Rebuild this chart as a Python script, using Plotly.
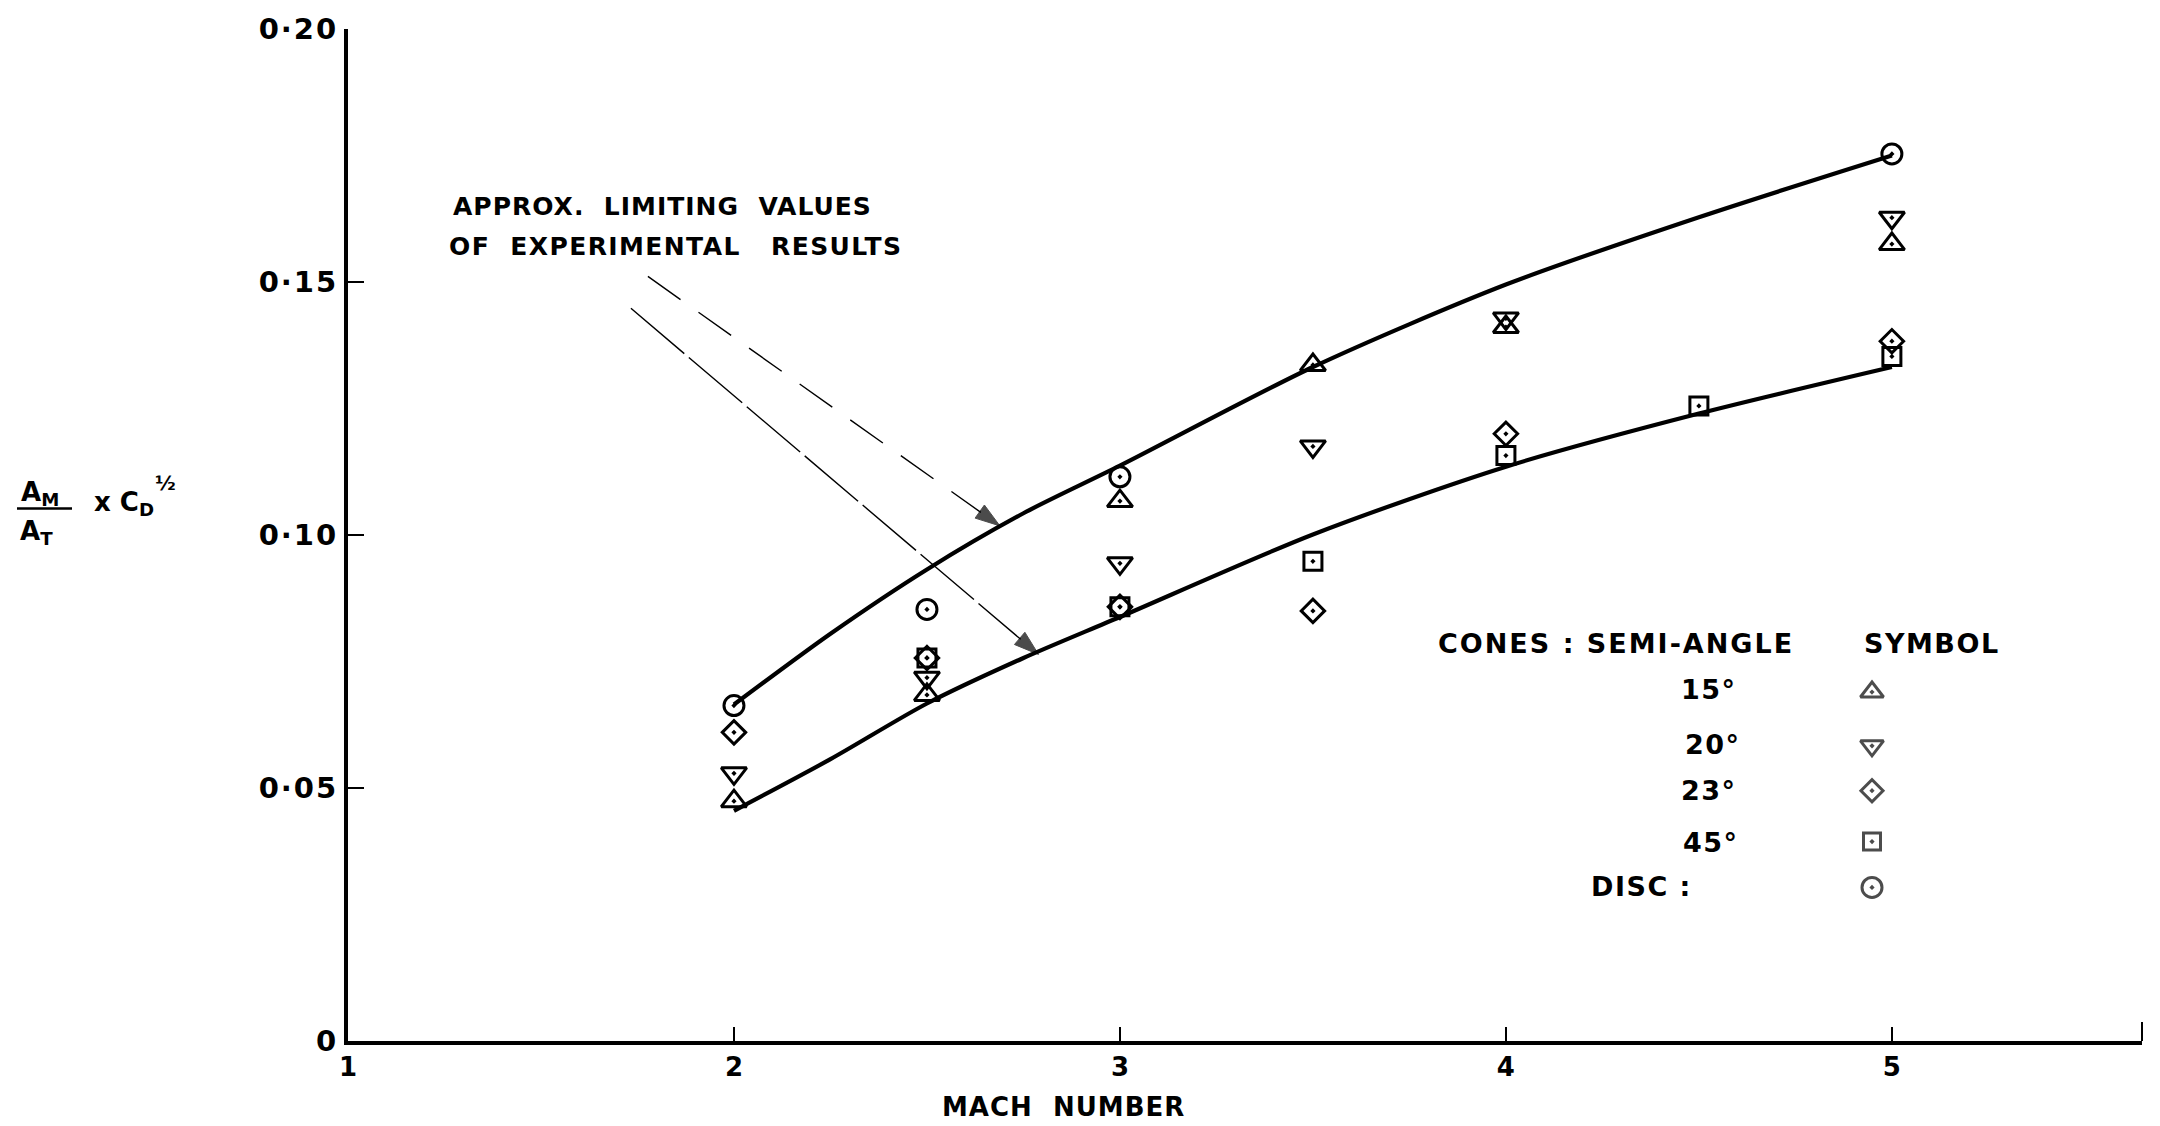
import plotly.graph_objects as go

# Experimental points: Mach number vs (A_M / A_T) x C_D^(1/2)
mach_15 = [2.0, 2.5, 3.0, 3.5, 4.0, 5.0]
val_15 = [0.0474, 0.0684, 0.1067, 0.1336, 0.1411, 0.1575]

mach_20 = [2.0, 2.5, 3.0, 3.5, 4.0, 5.0]
val_20 = [0.0529, 0.0718, 0.0944, 0.1175, 0.1428, 0.1627]

mach_23 = [2.0, 2.5, 3.0, 3.5, 4.0, 5.0]
val_23 = [0.0610, 0.0757, 0.0858, 0.0850, 0.1200, 0.1383]

mach_45 = [2.5, 3.0, 3.5, 4.0, 4.5, 5.0]
val_45 = [0.0757, 0.0858, 0.0948, 0.1157, 0.1255, 0.1353]

mach_disc = [2.0, 2.5, 3.0, 5.0]
val_disc = [0.0663, 0.0853, 0.1115, 0.1753]

# Approximate limiting curves of the experimental results
curve_mach = [2.0, 2.25, 2.5, 2.75, 3.0, 3.5, 4.0, 4.5, 5.0]
upper_limit = [0.0665, 0.0805, 0.0932, 0.1043, 0.1137, 0.1332, 0.1495, 0.1628, 0.1750]
lower_limit = [0.0455, 0.0557, 0.0667, 0.0757, 0.0838, 0.1001, 0.1135, 0.1240, 0.1332]

# Leader lines from the note to each curve: (tail, head) in Mach / value
leader_upper = [(1.777, 0.1511), (2.689, 0.1018)]
leader_lower = [(1.733, 0.1448), (2.789, 0.0764)]

# Axis ticks
y_ticks = [0.0, 0.05, 0.10, 0.15, 0.20]
y_tick_text = ["0", "0·05", "0·10", "0·15", "0·20"]
x_ticks = [1, 2, 3, 4, 5]
x_tick_text = ["1", "2", "3", "4", "5"]
x_max = 5.648

# Key rows
key_labels = ["15°", "20°", "23°", "45°", "DISC :"]
key_symbols = ["triangle-up-open-dot", "triangle-down-open-dot", "diamond-open-dot",
               "square-open-dot", "circle-open-dot"]

W, H = 2160, 1126
L, R, T, B = 348, 18, 26, 85
PX0, PX1 = L, W - R
PY0, PY1 = H - B, T
FONT = "DejaVu Sans"
INK = "#000000"


def fx(p):
    return (p - PX0) / (PX1 - PX0)


def fy(p):
    return (PY0 - p) / (PY0 - PY1)


def spaced(s, px):
    return '<span style="letter-spacing:%spx">%s</span>' % (px, s)


def bold_font(size):
    return dict(family=FONT, size=size, color=INK, weight="bold")


fig = go.Figure()

for ys in (upper_limit, lower_limit):
    fig.add_trace(go.Scatter(x=curve_mach, y=ys, mode="lines",
                             line=dict(color=INK, width=4.2, shape="spline", smoothing=0.8),
                             hoverinfo="skip", showlegend=False))

series = [
    (mach_15, val_15, "triangle-up-open-dot", 22),
    (mach_20, val_20, "triangle-down-open-dot", 22),
    (mach_23, val_23, "diamond-open-dot", 18),
    (mach_45, val_45, "square-open-dot", 18),
    (mach_disc, val_disc, "circle-open-dot", 20),
]
for xs, ys, sym, size in series:
    fig.add_trace(go.Scatter(x=xs, y=ys, mode="markers",
                             marker=dict(symbol=sym, size=size, color=INK,
                                         line=dict(color=INK, width=3)),
                             showlegend=False))

# Leader lines ending in arrowheads
for pts, dash in ((leader_upper, "40px,22px"), (leader_lower, "70px,6px")):
    fig.add_trace(go.Scatter(x=[p[0] for p in pts], y=[p[1] for p in pts],
                             mode="lines+markers",
                             line=dict(color=INK, width=1.4, dash=dash),
                             marker=dict(symbol="arrow", size=[0, 26], color=INK,
                                         angleref="previous",
                                         line=dict(color=INK, width=1)),
                             hoverinfo="skip", showlegend=False))

# Symbol key drawn on an overlay axis spanning the plot area
key_rows_px = [691, 745, 790, 841, 887]
key_sizes = [20, 20, 17, 17, 20]
fig.add_trace(go.Scatter(x=[fx(1872)] * len(key_symbols), y=[fy(p) for p in key_rows_px],
                         mode="markers", xaxis="x2", yaxis="y2",
                         marker=dict(symbol=key_symbols, size=key_sizes, color=INK,
                                     line=dict(color=INK, width=3)),
                         showlegend=False, hoverinfo="skip"))

annotations = []
shapes = []

# Key text
annotations.append(dict(text=spaced("CONES : SEMI-ANGLE", 2), x=fx(1436), y=fy(642),
                        xref="paper", yref="paper", xanchor="left", yanchor="middle",
                        showarrow=False, font=bold_font(27)))
annotations.append(dict(text=spaced("SYMBOL", 1.5), x=fx(1862), y=fy(642),
                        xref="paper", yref="paper", xanchor="left", yanchor="middle",
                        showarrow=False, font=bold_font(27)))
key_text_x = [1679, 1683, 1679, 1681, 1589]
key_text_y = [688, 744, 790, 842, 886]
for lab, xp, yp in zip(key_labels, key_text_x, key_text_y):
    annotations.append(dict(text=spaced(lab, 1.5), x=fx(xp), y=fy(yp), xref="paper", yref="paper",
                            xanchor="left", yanchor="middle", showarrow=False,
                            font=bold_font(27)))

# Note about the limiting curves
annotations.append(dict(text=spaced("APPROX.  LIMITING  VALUES", 1), x=fx(451), y=fy(204),
                        xref="paper", yref="paper", xanchor="left", yanchor="middle",
                        showarrow=False, font=bold_font(25)))
annotations.append(dict(text=spaced("OF  EXPERIMENTAL   RESULTS", 1.4), x=fx(447), y=fy(244),
                        xref="paper", yref="paper", xanchor="left", yanchor="middle",
                        showarrow=False, font=bold_font(25)))

# X axis title
annotations.append(dict(text=spaced("MACH  NUMBER", 1), x=fx(1063), y=fy(1107),
                        xref="paper", yref="paper", xanchor="center", yanchor="middle",
                        showarrow=False, font=bold_font(26)))

# Y axis title: (A_M / A_T) x C_D^(1/2)
annotations.append(dict(text="A<sub>M</sub>", x=fx(19), y=fy(492), xref="paper", yref="paper",
                        xanchor="left", yanchor="middle", showarrow=False, font=bold_font(26)))
annotations.append(dict(text="A<sub>T</sub>", x=fx(18), y=fy(531), xref="paper", yref="paper",
                        xanchor="left", yanchor="middle", showarrow=False, font=bold_font(26)))
shapes.append(dict(type="line", xref="paper", yref="paper", x0=fx(17), x1=fx(72),
                   y0=fy(507), y1=fy(507), line=dict(color=INK, width=2.5)))
annotations.append(dict(text="x C<sub>D</sub>", x=fx(92), y=fy(502), xref="paper", yref="paper",
                        xanchor="left", yanchor="middle", showarrow=False, font=bold_font(26)))
annotations.append(dict(text="½", x=fx(153), y=fy(481), xref="paper", yref="paper",
                        xanchor="left", yanchor="middle", showarrow=False, font=bold_font(20)))

# End tick closing the Mach axis
shapes.append(dict(type="line", xref="paper", yref="paper", x0=1, x1=1,
                   y0=0, y1=fy(1022), line=dict(color=INK, width=2)))

fig.update_layout(
    width=W, height=H,
    margin=dict(l=L, r=R, t=T, b=B, pad=0),
    paper_bgcolor="white", plot_bgcolor="white",
    showlegend=False,
    annotations=annotations,
    shapes=shapes,
    xaxis=dict(range=[1, x_max], tickmode="array",
               tickvals=x_ticks, ticktext=x_tick_text,
               ticks="inside", ticklen=14, tickwidth=2, tickcolor=INK,
               showline=True, linecolor=INK, linewidth=4,
               showgrid=False, zeroline=False, ticklabelstandoff=0,
               tickfont=bold_font(26)),
    yaxis=dict(range=[0, 0.2], tickmode="array",
               tickvals=y_ticks, ticktext=[spaced(t, 2) for t in y_tick_text],
               ticks="inside", ticklen=16, tickwidth=2, tickcolor=INK,
               showline=True, linecolor=INK, linewidth=4,
               showgrid=False, zeroline=False, ticklabelstandoff=0,
               tickfont=bold_font(29)),
    xaxis2=dict(overlaying="x", range=[0, 1], visible=False),
    yaxis2=dict(overlaying="y", range=[0, 1], visible=False),
)

fig.write_html("out.html")
